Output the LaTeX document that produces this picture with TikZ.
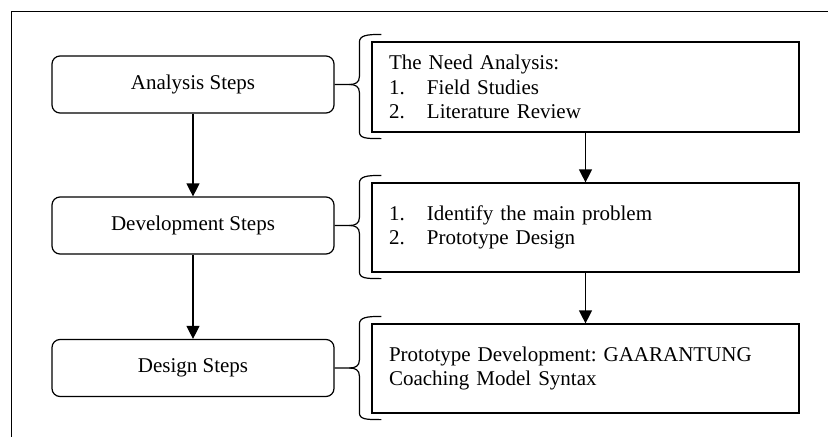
\documentclass[tikz,border=0pt]{standalone}
\usepackage{fontspec}
\setmainfont{Liberation Serif}
\usetikzlibrary{arrows.meta,calc}
\frenchspacing
\tikzset{
  ln/.style={line width=1.2pt},
  stepbox/.style={draw, ln, rounded corners=8pt, minimum width=282pt, minimum height=57pt, inner sep=0pt, align=center, font=\fontsize{21}{24.5}\selectfont},
  infobox/.style={draw, ln, minimum height=89pt, text width=393pt, inner xsep=17pt, inner ysep=0pt, align=left, font=\fontsize{21}{24.5}\selectfont},
  arr/.style={ln, -{Triangle[length=13pt,width=13pt]}},
  frame/.style={line width=1pt}
}
\newcommand\numit[1]{\makebox[38pt][l]{#1}}
\newcommand\mybrace[2]{%
  \draw[ln] ($(#2.north west)+(10,-7)$)
    .. controls +(-15,0) and +(0,-7) .. ($(#2.north west)+(-12,1)$)
    -- ($(#2.west |- #1.east)+(-12,-8)$)
    .. controls +(0,6) and +(6,0) .. ($(#2.west |- #1.east)+(-22,0)$)
    -- (#1.east);
  \draw[ln] ($(#2.south west)+(10,6)$)
    .. controls +(-15,0) and +(0,7) .. ($(#2.south west)+(-12,-1)$)
    -- ($(#2.west |- #1.east)+(-12,8)$)
    .. controls +(0,-6) and +(6,0) .. ($(#2.west |- #1.east)+(-22,0)$);
}
\begin{document}
\begin{tikzpicture}[x=1pt,y=-1pt]
\useasboundingbox (0,0) rectangle (828,437);
\draw[frame] (828,11) -- (11,11) -- (11,437);

\node[stepbox] (s1) at (193,84.5) {Analysis Steps};
\node[stepbox] (s2) at (193,225.5) {Development Steps};
\node[stepbox] (s3) at (193,368) {Design Steps};

\node[infobox, minimum height=90pt] (b1) at (585.5,87) {The Need Analysis:\\\numit{1.}Field Studies\\\numit{2.}Literature Review};
\node[infobox] (b2) at (585.5,227.5) {\numit{1.}Identify the main problem\\\numit{2.}Prototype Design};
\node[infobox] (b3) at (585.5,368.5) {Prototype Development: GAARANTUNG\\Coaching Model Syntax};

\draw[arr] (s1.south) -- (s2.north);
\draw[arr] (s2.south) -- (s3.north);
\draw[arr] (b1.south) -- (b2.north);
\draw[arr] (b2.south) -- (b3.north);

\mybrace{s1}{b1}
\mybrace{s2}{b2}
\mybrace{s3}{b3}
\end{tikzpicture}
\end{document}
